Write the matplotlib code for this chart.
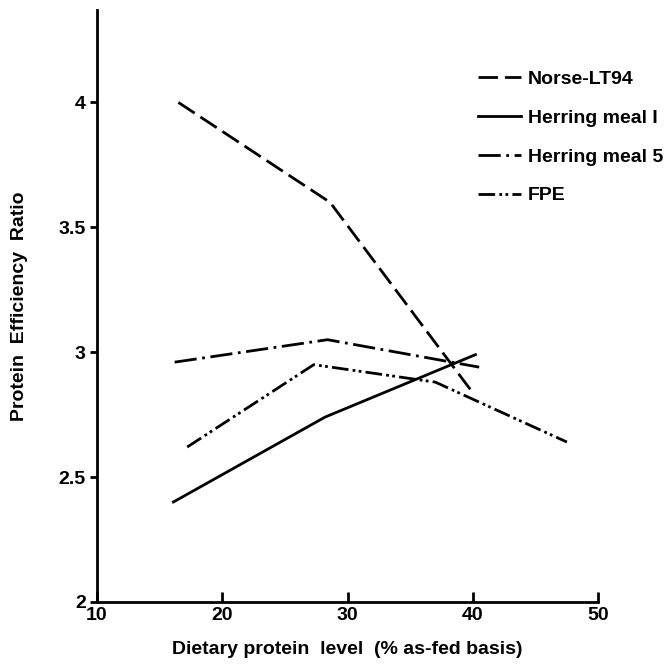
import matplotlib
matplotlib.use("Agg")
import matplotlib.pyplot as plt
from matplotlib.lines import Line2D

# values
norse_x = [16.5, 28.6, 40.1]
norse_y = [4.00, 3.60, 2.83]

hm1_x = [16.1, 28.2, 40.2]
hm1_y = [2.40, 2.74, 2.99]

hm5_x = [16.2, 28.4, 40.5]
hm5_y = [2.96, 3.05, 2.94]

fpe_x = [17.2, 27.3, 37.0, 47.5]
fpe_y = [2.62, 2.95, 2.88, 2.64]

labels = ["Norse-LT94", "Herring meal I", "Herring meal 5", "FPE"]

plt.rcParams['font.family'] = ['Liberation Sans', 'DejaVu Sans']
plt.rcParams['font.weight'] = 'bold'

fig = plt.figure(figsize=(6.64, 6.71), dpi=100)
ax = fig.add_axes([0.146, 0.103, 0.755, 0.882])

lw = 2.0
st_norse = (7, 2.5)
st_hm5 = (8, 2, 1, 2)
st_fpe = (6, 1.5, 1, 1.2, 1, 1.5)

ax.plot(norse_x, norse_y, color='black', lw=lw, dashes=st_norse)
ax.plot(hm1_x, hm1_y, color='black', lw=lw, ls='-')
ax.plot(hm5_x, hm5_y, color='black', lw=lw, dashes=st_hm5)
ax.plot(fpe_x, fpe_y, color='black', lw=lw, dashes=st_fpe)

ax.set_xlim(10, 50)
ax.set_ylim(2, 4.37)
ax.set_xticks([10, 20, 30, 40, 50])
ax.set_xticklabels(["10", "20", "30", "40", "50"])
ax.set_yticks([2, 2.5, 3, 3.5, 4])
ax.set_yticklabels(["2", "2.5", "3", "3.5", "4"])

for s in ['top', 'right']:
    ax.spines[s].set_visible(False)
for s in ['left', 'bottom']:
    ax.spines[s].set_linewidth(2)

ax.tick_params(axis='x', direction='in', length=7, width=2, labelsize=14, pad=4)
ax.tick_params(axis='y', direction='out', length=5, width=2, labelsize=14, pad=3)

ax.set_xlabel("Dietary protein  level  (% as-fed basis)", fontsize=14,
              fontweight='bold', labelpad=12)
ax.set_ylabel("Protein  Efficiency  Ratio", fontsize=14, fontweight='bold',
              labelpad=22)

handles = [
    Line2D([], [], color='black', lw=lw, dashes=st_norse),
    Line2D([], [], color='black', lw=lw, ls='-'),
    Line2D([], [], color='black', lw=lw, dashes=st_hm5),
    Line2D([], [], color='black', lw=lw, dashes=st_fpe),
]
leg = ax.legend(handles, labels, loc='upper left', bbox_to_anchor=(0.76, 0.898),
                frameon=False, handlelength=2.2, handletextpad=0.35,
                labelspacing=1.09, borderaxespad=0, borderpad=0,
                prop={'size': 14, 'weight': 'bold'})

plt.savefig("out.png", dpi=100)
